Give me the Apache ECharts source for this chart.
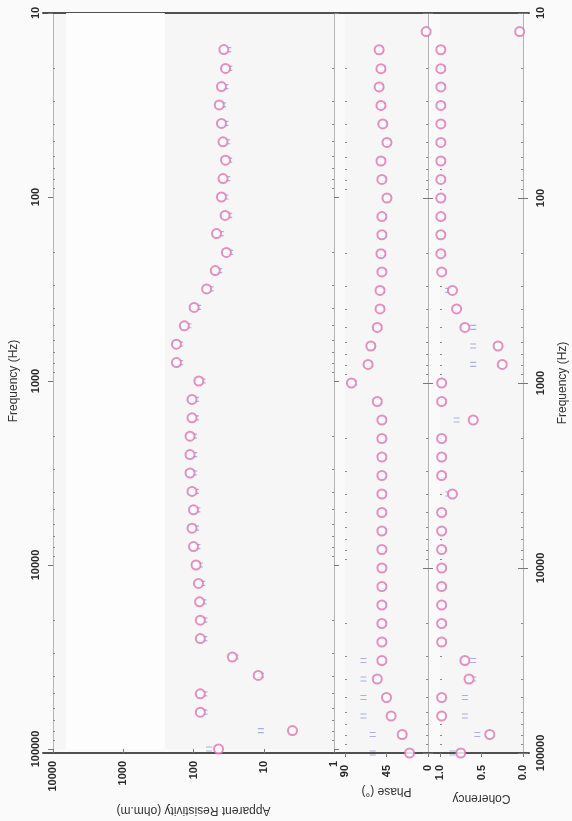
<!DOCTYPE html>
<html><head><meta charset="utf-8">
<script src="https://cdn.jsdelivr.net/npm/echarts@6/dist/echarts.min.js"></script>
<style>html,body{margin:0;padding:0;background:#fafafa}#c{width:572px;height:821px}</style>
</head><body><div id="c"></div>
<script>
// Frequencies (Hz), one row of soundings each
const freq = [12.6, 15.8, 20, 25.1, 31.6, 39.8, 50.1, 63.1, 79.4, 100,
  126, 158, 200, 251, 316, 398, 501, 631, 794, 1000,
  1259, 1585, 1995, 2512, 3162, 3981, 5012, 6310, 7943, 10000,
  12589, 15849, 19953, 25119, 31623, 39811, 50119, 63096, 79433, 100000];
// Apparent resistivity (ohm.m): magenta circles / blue marks
const rhoA = [null, 37, 35, 40, 43, 40, 38, 35, 38, 40,
  35.5, 47, 34, 49, 65, 98, 135, 175, 175, 84,
  105, 105, 112, 112, 112, 105, 100, 105, 100, 92,
  85, 82, 80, 80, 28, 12, 80, 80, 3.9, 44];
const rhoB = [null, 32, 31, 35, 38, 35, 33, 31, 33, 35,
  31, 41, 30, 43, 57, 86, 118, 155, 155, 74,
  92, 92, 98, 98, 98, 92, 88, 92, 88, 81,
  75, 72, 70, 70, 25, 11, 70, 70, 11, 60];
// Phase (degrees)
const phaseA = [2, 53, 51, 53, 51, 49, 44.5, 51, 50, 44.5,
  50, 50, 51, 50, 52, 52, 55, 62, 65, 83,
  55, 50, 50, 50, 50, 50, 50, 50, 50, 50,
  50, 50, 50, 50, 50, 55, 45, 40, 28, 20];
const phaseB = [null, 51, 49, 51, 49, 47, 43, 49, 48, 43,
  48, 48, 49, 48, 50, 50, 53, 60, 63, 80,
  53, 48, 48, 48, 48, 48, 48, 48, 48, 48,
  48, 48, 48, 48, 70, 70, 70, 70, 60, 60];
// Coherency
const cohA = [0.04, 0.99, 0.99, 0.99, 0.99, 0.99, 0.99, 0.99, 0.99, 0.99,
  0.99, 0.99, 0.99, 0.98, 0.85, 0.8, 0.7, 0.3, 0.25, 0.98,
  0.98, 0.6, 0.98, 0.98, 0.98, 0.85, 0.98, 0.98, 0.98, 0.98,
  0.98, 0.98, 0.98, 0.98, 0.7, 0.65, 0.98, 0.98, 0.4, 0.75];
const cohB = [null, 0.97, 0.97, 0.97, 0.97, 0.97, 0.97, 0.97, 0.97, 0.97,
  0.97, 0.97, 0.97, 0.96, 0.9, 0.8, 0.6, 0.6, 0.6, 0.96,
  0.96, 0.8, 0.96, 0.96, 0.96, 0.9, 0.96, 0.96, 0.96, 0.96,
  0.96, 0.96, 0.96, 0.96, 0.6, 0.6, 0.7, 0.7, 0.55, 0.85];
// Tick values
const freqMajor = [10, 100, 1000, 10000, 100000];
const freqMinor = [20,30,40,50,60,70,80,90,200,300,400,500,600,700,800,900,
  2000,3000,4000,5000,6000,7000,8000,9000,20000,30000,40000,50000,60000,70000,80000,90000];
const rhoMajor = [1, 10, 100, 1000, 10000];

const pairs = (vals) => freq.map((f, i) => [vals[i], f]).filter(p => p[0] != null);

const chart = echarts.init(document.getElementById('c'), null, {renderer: 'canvas'});
const TOP = 13, H = 740;
const lab = {fontFamily: 'Liberation Sans, Arial, sans-serif', fontSize: 11, fontWeight: 'bold', color: '#2a2a2a'};
const nameStyle = {fontFamily: 'Liberation Sans, Arial, sans-serif', fontSize: 12, color: '#333'};
const edge = {show: true, lineStyle: {color: '#b4b4b4', width: 1}};
const circleColor = '#dc76b2';
const markColor = '#93a0d2';
const eqSym = 'path://M0,0H6V1.2H0Z M0,4H6V5.2H0Z';

function fAxis(gi, pos, labels, name, extra) {
  return Object.assign({
    gridIndex: gi, type: 'log', logBase: 10, min: 10, max: 100000, inverse: true, position: pos,
    axisLine: edge,
    axisTick: {show: true, inside: false, length: 5, lineStyle: {color: '#777'}, customValues: freqMajor},
    minorTick: {show: false},
    axisLabel: labels ? Object.assign({rotate: 90, margin: 12, formatter: v => String(Math.round(v)), customValues: freqMajor}, lab) : {show: false},
    splitLine: {show: false},
    name: name || '', nameLocation: 'middle', nameRotate: 90, nameGap: 33, nameTextStyle: nameStyle
  }, extra || {});
}
function fMinor(gi, pos) {
  return {
    gridIndex: gi, type: 'log', logBase: 10, min: 10, max: 100000, inverse: true, position: pos,
    axisLine: {show: false},
    axisTick: {show: true, inside: true, length: 2, lineStyle: {color: '#888'}, customValues: freqMinor},
    axisLabel: {show: false}, splitLine: {show: false}
  };
}

const option = {
  animation: false,
  backgroundColor: '#fafafa',
  grid: [
    {left: 45, width: 289, top: TOP, height: H, show: true, backgroundColor: '#f6f6f6', borderWidth: 0},
    {left: 345, width: 83, top: TOP, height: H, show: true, backgroundColor: '#f6f6f6', borderWidth: 0},
    {left: 440, width: 83, top: TOP, height: H, show: true, backgroundColor: '#f6f6f6', borderWidth: 0},
    {left: 43, width: 486, top: TOP, height: H}
  ],
  xAxis: [
    {gridIndex: 0, type: 'log', logBase: 10, min: 1, max: 10000, inverse: true, position: 'bottom',
      axisLine: {show: false},
      axisTick: {show: true, length: 4, lineStyle: {color: '#777'}, customValues: rhoMajor},
      axisLabel: Object.assign({rotate: 90, margin: 12, formatter: v => String(Math.round(v)), customValues: rhoMajor}, lab),
      splitLine: {show: false},
      name: 'Apparent Resistivity (ohm.m)', nameLocation: 'middle', nameRotate: 180, nameGap: 55, nameTextStyle: nameStyle},
    {gridIndex: 1, type: 'value', min: 0, max: 90, interval: 45, inverse: true, position: 'bottom',
      axisLine: {show: false},
      axisTick: {show: true, length: 4, lineStyle: {color: '#777'}},
      axisLabel: Object.assign({rotate: 90, margin: 12}, lab),
      splitLine: {show: false},
      name: 'Phase (°)', nameLocation: 'middle', nameRotate: 180, nameGap: 32, nameTextStyle: nameStyle},
    {gridIndex: 2, type: 'value', min: 0, max: 1, interval: 0.5, inverse: true, position: 'bottom',
      axisLine: {show: false},
      axisTick: {show: true, length: 4, lineStyle: {color: '#777'}},
      axisLabel: Object.assign({rotate: 90, margin: 12, formatter: v => v.toFixed(1)}, lab),
      splitLine: {show: false},
      name: 'Coherency', nameLocation: 'middle', nameRotate: 180, nameGap: 39, nameTextStyle: nameStyle},
    {gridIndex: 3, type: 'value', min: 0, max: 1, position: 'bottom',
      axisLine: {show: true, lineStyle: {color: '#505050', width: 2}}, axisTick: {show: false}, axisLabel: {show: false}, splitLine: {show: false}},
    {gridIndex: 3, type: 'value', min: 0, max: 1, position: 'top',
      axisLine: {show: true, lineStyle: {color: '#505050', width: 2}}, axisTick: {show: false}, axisLabel: {show: false}, splitLine: {show: false}}
  ],
  yAxis: [
    fAxis(0, 'left', true, 'Frequency (Hz)', {nameGap: 33}),
    fAxis(0, 'right', false),
    fAxis(1, 'left', false),
    fAxis(1, 'right', false),
    fAxis(2, 'left', false),
    fAxis(2, 'right', true, 'Frequency (Hz)', {nameGap: 34}),
    fMinor(0, 'left'), fMinor(0, 'right'), fMinor(1, 'left'), fMinor(1, 'right'), fMinor(2, 'left'), fMinor(2, 'right'),
    {gridIndex: 3, type: 'value', show: false}
  ],
  series: [
    {type: 'scatter', xAxisIndex: 0, yAxisIndex: 0, data: pairs(rhoB), symbol: eqSym, symbolSize: [6, 5.2], itemStyle: {color: markColor}, z: 2,
      markArea: {silent: true, itemStyle: {color: '#fdfdfd'}, data: [[{xAxis: 6500}, {xAxis: 256}]]}},
    {type: 'scatter', xAxisIndex: 0, yAxisIndex: 0, data: pairs(rhoA), symbol: 'emptyCircle', symbolSize: 9, itemStyle: {color: circleColor, borderWidth: 1.1}, z: 3},
    {type: 'scatter', xAxisIndex: 1, yAxisIndex: 2, data: pairs(phaseB), symbol: eqSym, symbolSize: [6, 5.2], itemStyle: {color: markColor}, z: 2},
    {type: 'scatter', xAxisIndex: 1, yAxisIndex: 2, data: pairs(phaseA), symbol: 'emptyCircle', symbolSize: 9, itemStyle: {color: circleColor, borderWidth: 1.1}, z: 3},
    {type: 'scatter', xAxisIndex: 2, yAxisIndex: 4, data: pairs(cohB), symbol: eqSym, symbolSize: [6, 5.2], itemStyle: {color: markColor}, z: 2},
    {type: 'scatter', xAxisIndex: 2, yAxisIndex: 4, data: pairs(cohA), symbol: 'emptyCircle', symbolSize: 9, itemStyle: {color: circleColor, borderWidth: 1.1}, z: 3}
  ]
};
chart.setOption(option);
</script>
</body></html>
